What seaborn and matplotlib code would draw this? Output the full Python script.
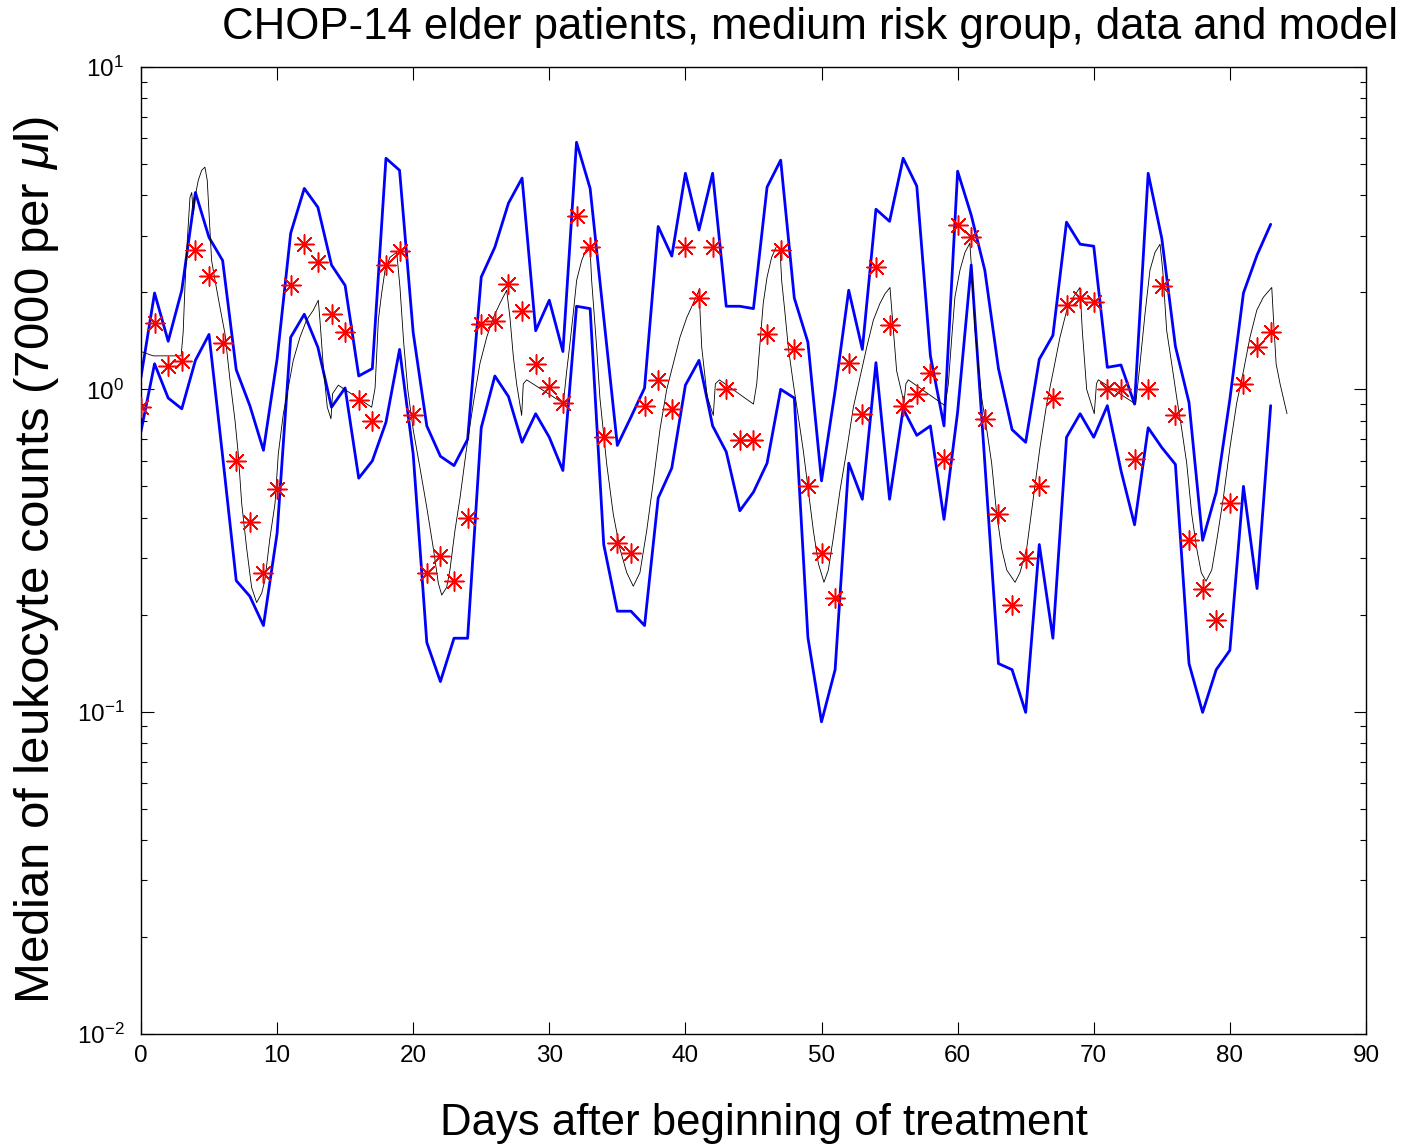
import matplotlib
matplotlib.use('Agg')
import matplotlib.pyplot as plt
from matplotlib.ticker import LogLocator, NullFormatter
import seaborn as sns

# measured median counts (red asterisks), one per day
days = list(range(84))
data_median = [0.88, 1.61, 1.18, 1.22, 2.70, 2.24, 1.39, 0.60, 0.387, 0.27,
               0.49, 2.10, 2.82, 2.49, 1.71, 1.51, 0.925, 0.80, 2.43, 2.68,
               0.83, 0.27, 0.305, 0.255, 0.40, 1.60, 1.63, 2.12, 1.75, 1.20,
               1.02, 0.905, 3.46, 2.76, 0.71, 0.333, 0.31, 0.89, 1.07, 0.87,
               2.76, 1.92, 2.76, 1.0, 0.695, 0.695, 1.49, 2.70, 1.33, 0.50,
               0.31, 0.226, 1.21, 0.84, 2.39, 1.58, 0.89, 0.97, 1.12, 0.61,
               3.23, 2.96, 0.81, 0.41, 0.214, 0.30, 0.50, 0.94, 1.82, 1.92,
               1.86, 1.0, 1.0, 0.61, 1.0, 2.09, 0.83, 0.34, 0.241, 0.193,
               0.443, 1.04, 1.35, 1.51]

# blue band (upper / lower quartile lines)
upper_bound = [1.09, 1.99, 1.41, 2.03, 4.08, 2.96, 2.51, 1.15, 0.89, 0.647,
               1.24, 3.05, 4.2, 3.67, 2.43, 2.10, 1.10, 1.16, 5.21, 4.78,
               1.50, 0.77, 0.62, 0.58, 0.70, 2.23, 2.76, 3.78, 4.52, 1.52,
               1.89, 1.31, 5.84, 4.2, 1.67, 0.67, 0.82, 1.01, 3.2, 2.59,
               4.68, 3.12, 4.68, 1.81, 1.81, 1.78, 4.24, 5.14, 1.92, 1.40,
               0.52, 0.99, 2.03, 1.33, 3.62, 3.32, 5.21, 4.27, 1.27, 0.77,
               4.75, 3.47, 2.34, 1.16, 0.75, 0.685, 1.24, 1.47, 3.30, 2.82,
               2.78, 1.17, 1.19, 0.90, 4.68, 2.94, 1.36, 0.91, 0.34, 0.48,
               0.93, 1.99, 2.61, 3.25]
lower_bound = [0.74, 1.20, 0.94, 0.87, 1.23, 1.48, 0.62, 0.255, 0.228, 0.185,
               0.357, 1.45, 1.71, 1.35, 0.88, 1.01, 0.53, 0.60, 0.79, 1.33,
               0.63, 0.164, 0.124, 0.169, 0.169, 0.76, 1.10, 0.95, 0.685, 0.84,
               0.71, 0.56, 1.81, 1.78, 0.33, 0.205, 0.205, 0.185, 0.46, 0.57,
               1.03, 1.23, 0.77, 0.64, 0.42, 0.48, 0.59, 1.0, 0.94, 0.17,
               0.093, 0.135, 0.59, 0.456, 1.21, 0.456, 0.87, 0.72, 0.77, 0.395,
               0.85, 2.43, 0.59, 0.141, 0.135, 0.0995, 0.33, 0.169, 0.71, 0.84,
               0.71, 0.89, 0.56, 0.38, 0.76, 0.66, 0.585, 0.141, 0.0995, 0.135,
               0.155, 0.50, 0.241, 0.89]

# model curve (thin black), knots
model_days = [0.0, 0.9, 2.95, 3.1, 3.23, 3.36, 3.6, 3.73, 3.85, 3.97, 4.21, 4.46, 4.70, 4.87,
              5.02, 5.19, 5.44, 5.80, 6.17, 6.54, 6.91, 7.15, 7.40, 7.77, 8.13, 8.50, 8.87,
              9.10, 9.48, 9.85, 10.09, 10.46, 10.82, 11.19, 11.68, 12.17, 12.66, 13.03, 13.15,
              13.40, 13.69, 13.96, 14.08, 14.5, 16.95,
              17.2, 17.44, 17.68, 17.93, 18.3, 18.79, 19.03, 19.3, 19.6, 20.0, 20.5, 21.0, 21.5,
              21.85, 22.1, 22.46, 22.7, 23.07, 23.44, 23.93, 24.42, 24.9, 25.4, 25.89, 26.38,
              26.87, 27.11, 27.36, 27.6, 27.97,
              28.09, 28.34, 31.03, 31.28, 31.52, 31.76, 32.01, 32.38, 32.75, 32.99, 33.11, 33.48,
              33.72, 34.21, 34.70, 35.19, 35.69, 36.17, 36.66, 37.16, 37.65, 38.13, 38.63, 39.11,
              39.6, 40.1, 40.58, 41.0, 41.2, 41.6, 42.05,
              42.2, 42.5, 45.0, 45.24, 45.48, 45.72, 46.0, 46.34, 46.7, 46.95, 47.07, 47.32,
              47.56, 47.93, 48.3, 48.66, 49.03, 49.4, 49.77, 50.18, 50.5, 50.87, 51.36, 51.85,
              52.34, 52.83, 53.32, 53.81, 54.3, 54.67, 55.03, 55.28, 55.52, 56.06,
              56.2, 56.38, 59.07, 59.32, 59.57, 59.8, 60.17, 60.54, 60.9, 61.03, 61.28, 61.52,
              61.77, 62.14, 62.5, 62.87, 63.24, 63.61, 64.22, 64.58, 65.07, 65.56, 66.05, 66.55,
              67.03, 67.52, 68.02, 68.5, 68.99, 69.16, 69.48, 70.04,
              70.2, 70.34, 73.08, 73.4, 73.77, 74.13, 74.5, 74.87, 75.07, 75.36, 75.73, 76.1,
              76.47, 76.83, 77.2, 77.57, 77.9, 78.25, 78.67, 79.04, 79.52, 80.01, 80.5, 81.0,
              81.48, 81.98, 82.46, 83.08, 83.2, 83.4, 83.69, 84.2]
model_vals = [1.31, 1.27, 1.27, 1.5, 2.07, 2.70, 3.94, 4.08, 3.5, 3.94, 4.45, 4.78, 4.89, 4.45,
              3.42, 2.51, 2.18, 1.80, 1.49, 1.07, 0.80, 0.63, 0.443, 0.32, 0.243, 0.218, 0.233,
              0.255, 0.347, 0.443, 0.63, 0.84, 1.01, 1.23, 1.45, 1.64, 1.76, 1.89, 1.64,
              1.17, 0.88, 0.81, 0.97, 1.03, 0.88,
              1.01, 1.64, 1.98, 2.34, 2.57, 2.66, 2.07, 1.4, 1.0, 0.75, 0.57, 0.43, 0.317,
              0.25, 0.23, 0.243, 0.275, 0.365, 0.46, 0.66, 0.905, 1.20, 1.45, 1.67, 1.85,
              2.03, 1.67, 1.26, 1.04, 0.83,
              1.04, 1.07, 0.905, 1.14, 1.39, 1.72, 2.18, 2.51, 2.74, 2.76, 2.18, 1.35,
              0.94, 0.59, 0.41, 0.32, 0.27, 0.245, 0.27, 0.365, 0.52, 0.75, 1.0, 1.20,
              1.45, 1.67, 1.85, 2.03, 1.35, 0.95, 0.83,
              1.04, 1.07, 0.90, 1.04, 1.39, 1.85, 2.23, 2.57, 2.78, 2.74, 2.18, 1.72,
              1.35, 1.04, 0.82, 0.646, 0.486, 0.365, 0.288, 0.252, 0.275, 0.347, 0.486, 0.646,
              0.88, 1.09, 1.35, 1.64, 1.85, 1.98, 2.07, 1.52, 1.14, 0.91,
              1.04, 1.07, 0.89, 1.04, 1.45, 1.93, 2.34, 2.66, 2.84, 2.34, 1.52, 1.20,
              0.94, 0.75, 0.59, 0.41, 0.32, 0.275, 0.252, 0.27, 0.32, 0.46, 0.66, 0.905,
              1.14, 1.45, 1.76, 1.93, 2.07, 1.52, 1.0, 0.84,
              1.04, 1.07, 0.90, 1.20, 1.72, 2.34, 2.66, 2.82, 2.34, 1.52, 1.20, 0.94,
              0.75, 0.59, 0.41, 0.32, 0.27, 0.254, 0.275, 0.34, 0.46, 0.66, 0.905, 1.14,
              1.45, 1.76, 1.93, 2.07, 1.67, 1.20, 1.04, 0.84]

sns.set_theme(style='ticks')
plt.rcParams['font.family'] = ['Liberation Sans', 'DejaVu Sans']
plt.rcParams['mathtext.fontset'] = 'custom'
plt.rcParams['mathtext.rm'] = 'Liberation Sans'
plt.rcParams['mathtext.it'] = 'Liberation Sans:italic'
plt.rcParams['mathtext.sf'] = 'Liberation Sans'
plt.rcParams['axes.unicode_minus'] = False
plt.rcParams['text.color'] = 'black'
plt.rcParams['axes.labelcolor'] = 'black'
plt.rcParams['xtick.color'] = 'black'
plt.rcParams['ytick.color'] = 'black'

fig = plt.figure(figsize=(14.04, 11.47), dpi=100)
ax = fig.add_axes([0.1004, 0.0985, 0.8725, 0.8431])
ax.set_yscale('log')

sns.lineplot(x=days, y=upper_bound, ax=ax, color='#0000ff', lw=2.0, estimator=None, sort=False)
sns.lineplot(x=days, y=lower_bound, ax=ax, color='#0000ff', lw=2.0, estimator=None, sort=False)
sns.lineplot(x=model_days, y=model_vals, ax=ax, color='black', lw=0.6, estimator=None, sort=False)
sns.scatterplot(x=days, y=data_median, ax=ax, marker=(8, 2, 0), color='#ff0000',
                s=190, linewidth=1.1, zorder=5)

ax.set_xlim(0, 90)
ax.set_ylim(0.01, 10)
ax.set_xticks(range(0, 91, 10))
ax.yaxis.set_major_locator(LogLocator(base=10, numticks=10))
ax.yaxis.set_minor_locator(LogLocator(base=10, subs=(2, 3, 4, 5, 6, 7, 8, 9), numticks=20))
ax.yaxis.set_minor_formatter(NullFormatter())
ax.tick_params(which='both', direction='in', top=True, right=True, colors='black',
               labelcolor='black', labelsize=17.5)
ax.tick_params(axis='x', which='major', length=9, width=0.8, pad=8)
ax.tick_params(axis='y', which='major', length=9, width=0.8, pad=12)
ax.tick_params(axis='y', which='minor', length=4.5, width=0.8)
for s in ax.spines.values():
    s.set_color('black')
    s.set_linewidth(1.0)
ax.set_xlabel('')
ax.set_ylabel('')

fig.text(810 / 1404, 1 - 28 / 1147, 'CHOP-14 elder patients, medium risk group, data and model',
         ha='center', va='center', fontsize=31.5, color='black')
fig.text(764 / 1404, 1 - 1124 / 1147, 'Days after beginning of treatment',
         ha='center', va='center', fontsize=31.5, color='black')
fig.text(37 / 1404, 1 - 560 / 1147, r'Median of leukocyte counts (7000 per $\mu$l)',
         ha='center', va='center', rotation=90, fontsize=35.5, color='black')

fig.savefig('out.png', dpi=100)
